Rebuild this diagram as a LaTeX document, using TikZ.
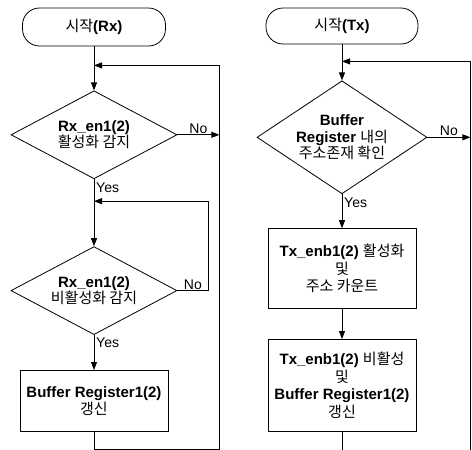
\documentclass[tikz,border=0pt]{standalone}
\usepackage{fontspec}
\setmainfont{Liberation Sans}
\newfontfamily\kr{Noto Sans CJK KR}
\usetikzlibrary{positioning, shapes.geometric, arrows.meta}

\begin{document}
\begin{tikzpicture}[
    x=1pt, y=1pt,
    termbox/.style={rectangle, draw, line width=0.8pt, rounded corners=17pt,
                    minimum height=38pt, align=center,
                    font=\fontsize{15}{17}\selectfont},
    decbox/.style={diamond, draw, line width=0.8pt, inner sep=0pt,
                   align=center, font=\fontsize{15}{16.5}\selectfont},
    procbox/.style={rectangle, draw, line width=0.8pt, minimum width=148pt,
                    align=center, font=\fontsize{15}{17.5}\selectfont},
    arrow/.style={-{Triangle[length=8pt,width=6pt]}, line width=0.8pt},
    lbl/.style={font=\fontsize{14}{16}\selectfont, inner sep=1pt},
  ]
    \useasboundingbox (0,0) rectangle (472,-450);

    % Rx side
    \node[termbox, minimum width=143pt] (startRx) at (94,-27) {{\kr 시작}\textbf{(Rx)}};
    \node[decbox, aspect=1.9, minimum width=166pt, minimum height=88pt, below=44pt of startRx] (detOn)
         {\textbf{Rx\_en1(2)}\\{\kr 활성화 감지}};
    \node[decbox, aspect=1.9, minimum width=166pt, minimum height=88pt, below=67pt of detOn] (detOff)
         {\textbf{Rx\_en1(2)}\\{\kr 비활성화 감지}};
    \node[procbox, minimum height=61pt, below=35pt of detOff] (updRx)
         {\textbf{Buffer Register1(2)}\\{\kr 갱신}};

    \coordinate[below=19pt of startRx] (joinRx);
    \coordinate[below=22pt of detOn] (joinOff);
    \coordinate[right=42pt of detOn] (noOn);
    \coordinate[right=31pt of detOff] (noOff);
    \coordinate[below=18pt of updRx] (endRx);

    \draw[arrow] (startRx) -- (detOn);
    \draw[arrow] (detOn) -- (detOff);
    \draw[arrow] (detOff) -- (updRx);
    \draw[arrow] (detOn) -- (noOn) node[lbl, above, midway] (noRxA) {No};
    \draw[arrow] (detOff) -- (noOff) node[lbl, above, midway] (noRxB) {No} |- (joinOff);
    \draw[arrow] (updRx) -- (endRx) -| (noOn) |- (joinRx);

    \node[lbl, anchor=north west] (yesRxA) at ([xshift=1pt, yshift=-2pt]detOn.south) {Yes};
    \node[lbl, anchor=north west] (yesRxB) at ([xshift=1pt, yshift=-2pt]detOff.south) {Yes};

    % Tx side
    \node[termbox, minimum width=152pt, minimum height=36pt] (startTx) at (342,-26) {{\kr 시작}\textbf{(Tx)}};
    \node[decbox, aspect=1.6, minimum width=170pt, minimum height=113pt, below=36pt of startTx] (chkAddr)
         {\textbf{Buffer}\\\textbf{Register} {\kr 내의}\\{\kr 주소존재 확인}};
    \node[procbox, minimum height=80pt, below=34pt of chkAddr] (actTx)
         {\textbf{Tx\_enb1(2)} {\kr 활성화}\\{\kr 및}\\{\kr 주소 카운트}};
    \node[procbox, minimum height=92pt, below=30pt of actTx] (updTx)
         {\textbf{Tx\_enb1(2)} {\kr 비활성}\\{\kr 및}\\\textbf{Buffer Register1(2)}\\{\kr 갱신}};

    \coordinate[below=17pt of startTx] (joinTx);
    \coordinate[right=43pt of chkAddr] (noTx);
    \coordinate[below=19pt of updTx] (endTx);

    \draw[arrow] (startTx) -- (chkAddr);
    \draw[arrow] (chkAddr) -- (actTx);
    \draw[arrow] (actTx) -- (updTx);
    \draw[arrow] (chkAddr) -- (noTx) node[lbl, above, midway] (noTxA) {No};
    \draw[arrow] (updTx) -- (endTx) -| (noTx) |- (joinTx);

    \node[lbl, anchor=north west] (yesTx) at ([xshift=1pt, yshift=-2pt]chkAddr.south) {Yes};
\end{tikzpicture}
\end{document}
